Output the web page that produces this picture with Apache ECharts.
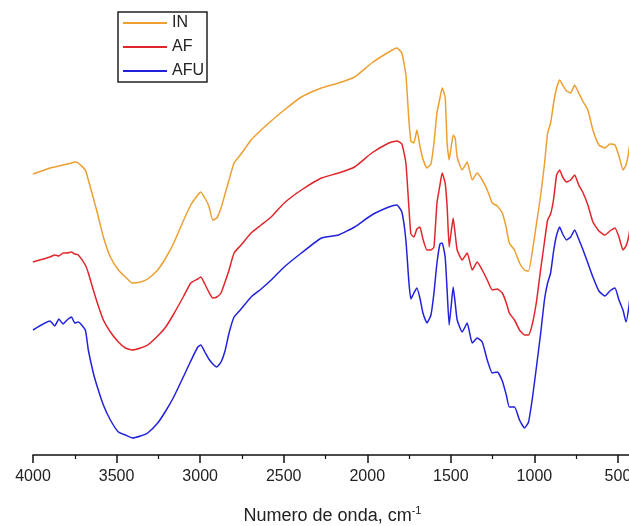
<!DOCTYPE html>
<html>
<head>
<meta charset="utf-8">
<script src="https://cdn.jsdelivr.net/npm/echarts@6/dist/echarts.min.js"></script>
<style>
html,body{margin:0;padding:0;background:#fff;}
#chart{width:629px;height:526px;}
</style>
</head>
<body>
<div id="chart"></div>
<script>
// Wavenumbers (cm^-1)
const wavenumbers = [4000,3898,3870,3845,3820,3796,3770,3750,3729,3687,3669,3639,3615,3579,3537,3489,3447,3405,3357,3314,3254,3206,3158,3098,3056,3014,2996,2972,2948,2924,2900,2875,2851,2827,2797,2755,2695,2635,2575,2497,2394,2274,2172,2076,1973,1871,1823,1793,1769,1751,1739,1721,1703,1685,1667,1643,1619,1601,1583,1565,1552,1534,1522,1510,1498,1486,1474,1462,1432,1402,1372,1342,1312,1282,1252,1222,1192,1168,1150,1119,1089,1059,1035,1011,987,963,939,921,903,885,867,849,831,807,783,759,735,711,680,650,614,578,548,518,494,470,452,434,416];
// Transmittance (arbitrary units, stacked curves)
const seriesIN = [281,287,288,289,290,291,292,293,292,285,275,257,242,218,198,185,178,172,173,176,185,197,212,235,250,260,263,257,249,235,237,247,261,275,292,301,315,325,334,345,358,367,372,378,392,403,407,402,380,335,314,312,325,309,296,287,291,312,342,357,367,358,311,295,308,320,317,298,285,293,275,282,275,265,252,249,242,227,212,205,192,185,184,205,232,259,292,322,332,352,367,375,370,364,362,370,362,354,345,325,310,307,311,310,299,285,290,305,330];
const seriesAF = [193,198,200,199,202,202,203,201,200,190,182,165,152,135,123,113,107,105,107,110,119,128,141,159,172,176,178,171,163,157,158,162,173,185,202,210,222,230,238,252,265,277,282,288,302,312,314,311,292,248,221,218,226,228,216,205,205,208,252,270,282,272,248,208,223,237,221,205,195,202,185,193,185,175,165,166,162,152,142,135,125,120,120,132,154,185,214,235,241,256,280,285,278,273,275,280,270,263,250,233,224,220,224,227,218,205,209,220,245];
const seriesAFU = [125,134,129,136,131,135,138,132,133,125,105,82,68,50,35,23,20,17,19,22,32,44,58,79,94,108,110,103,96,91,88,93,104,122,138,146,158,166,175,188,202,217,220,228,240,248,250,243,215,173,156,162,167,157,142,132,140,162,192,211,212,198,164,130,149,168,152,135,123,132,112,117,113,95,82,83,74,60,48,48,35,27,33,58,89,121,156,172,182,204,220,228,221,215,218,225,216,206,192,178,164,159,164,167,155,145,133,149,175];
const seriesNames = ['IN','AF','AFU'];
const majorTicks = [4000,3500,3000,2500,2000,1500,1000,500];
const minorTicks = [3750,3250,2750,2250,1750,1250,750];

const colors = ['#EE9F32','#E0262B','#2222DD'];
const font = 'Liberation Sans, Arial, sans-serif';
function zip(vals){ return wavenumbers.map((w,i)=>[w, vals[i]]); }
const allVals = [seriesIN, seriesAF, seriesAFU];

const chart = echarts.init(document.getElementById('chart'), null, {renderer:'canvas'});
chart.setOption({
  backgroundColor:'#fff',
  animation:false,
  grid:{left:33, top:0, width:599, height:455, containLabel:false, outerBoundsMode:'none'},
  legend:{
    data:seriesNames,
    orient:'vertical',
    left:118, top:12,
    icon:'rect',
    itemWidth:44, itemHeight:2, itemGap:8,
    padding:[3,3,3,5],
    borderColor:'#222', borderWidth:1.5,
    textStyle:{fontSize:16, color:'#222', fontFamily:font}
  },
  xAxis:[{
    type:'value', inverse:true, min:416, max:4000,
    axisLine:{show:true, lineStyle:{color:'#111', width:1.5}},
    axisTick:{show:true, customValues:majorTicks, length:8, inside:false, lineStyle:{color:'#111', width:1.5}},
    axisLabel:{show:true, customValues:majorTicks, fontSize:16, color:'#222', fontFamily:font, margin:14,
      formatter:function(v){return String(v);}},
    splitLine:{show:false},
    name:'{a|Numero de onda, cm}{s|-1}',
    nameLocation:'middle', nameGap:50,
    nameTextStyle:{
      rich:{
        a:{fontSize:18, color:'#222', fontFamily:font},
        s:{fontSize:11, color:'#222', fontFamily:font, padding:[0,0,11,0]}
      }
    }
  },{
    type:'value', inverse:true, min:416, max:4000, position:'bottom',
    axisLine:{show:false},
    axisTick:{show:true, customValues:minorTicks, length:4, inside:false, lineStyle:{color:'#111', width:1.2}},
    axisLabel:{show:false},
    splitLine:{show:false}
  }],
  yAxis:{type:'value', min:0, max:455, show:false},
  series: seriesNames.map((n,i)=>({
    name:n, type:'line', xAxisIndex:0,
    data:zip(allVals[i]),
    symbol:'none', smooth:0.15,
    lineStyle:{color:colors[i], width:1.5},
    itemStyle:{color:colors[i]}
  }))
});
</script>
</body>
</html>
